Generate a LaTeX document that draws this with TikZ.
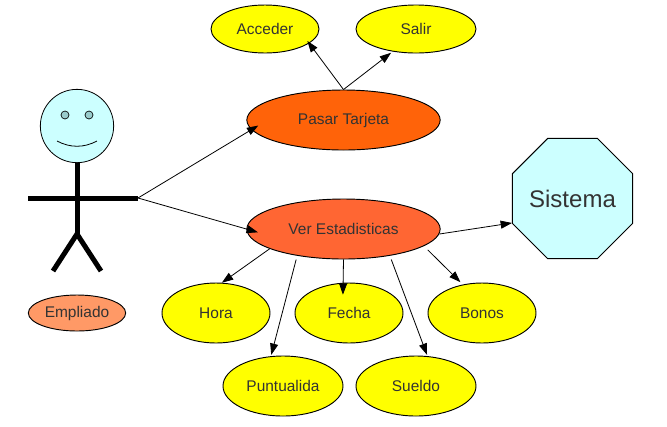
\documentclass[tikz,border=0pt]{standalone}
\usepackage{fontspec}
\setmainfont{Liberation Sans}
\usetikzlibrary{arrows.meta,shapes.geometric}
\definecolor{tinta}{HTML}{333333}
\definecolor{celeste}{HTML}{CCFFFF}
\definecolor{ojo}{HTML}{99CCCC}
\definecolor{amarillo}{HTML}{FFFF00}

\begin{document}
\begin{tikzpicture}[
  x=0.75pt, y=-0.75pt,
  caso/.style={draw=black, ellipse, inner sep=0pt, line width=0.7pt, text=tinta,
               font=\fontsize{11.6}{14}\selectfont, minimum height=45pt},
  opcion/.style={caso, fill=amarillo},
  palo/.style={line width=3.75pt},
  arr/.style={-{Stealth[length=8.5pt, width=6pt, inset=0pt]}, line width=0.6pt}]
\useasboundingbox (0,0) rectangle (667,426);
\node[opcion, minimum width=81pt, minimum height=36pt] (acceder) at (265,29) {Acceder};
\node[opcion, minimum width=90pt, minimum height=36pt] (salir) at (416,29) {Salir};
\node[caso, fill={rgb,255:red,255;green,99;blue,9}, minimum width=145pt] (pasar) at (343.5,120) {Pasar Tarjeta};
\node[caso, fill={rgb,255:red,255;green,102;blue,51}, minimum width=145pt] (ver) at (343.5,229) {Ver Estadisticas};
\node[opcion, minimum width=81pt] (hora) at (216,313) {Hora};
\node[opcion, minimum width=81pt] (fecha) at (349,313) {Fecha};
\node[opcion, minimum width=81pt] (bonos) at (482,313) {Bonos};
\node[opcion, minimum width=90pt] (puntualida) at (283,386) {Puntualida};
\node[opcion, minimum width=90pt] (sueldo) at (416,386) {Sueldo};
\node[caso, fill={rgb,255:red,255;green,153;blue,102}, minimum width=73pt, minimum height=27pt] (empliado) at (77,313) {Empliado};
\node[draw=black, regular polygon, regular polygon sides=8, inner sep=0pt, fill=celeste, text=tinta,
      line width=0.7pt, minimum size=97.5pt, font=\fontsize{18}{22}\selectfont] (sistema) at (572.5,198.5) {\makebox[0pt]{Sistema}};
\node[draw=black, circle, fill=celeste, inner sep=0pt, line width=0.6pt, minimum size=55pt] (cara) at (77,126) {};
\node[draw=black, circle, fill=ojo, inner sep=0pt, line width=0.5pt, minimum size=6pt] (ojoa) at (65,115) {};
\node[draw=black, circle, fill=ojo, inner sep=0pt, line width=0.5pt, minimum size=6pt] (ojob) at (89,115) {};
\coordinate (bocaa) at (57,141);
\coordinate (bocab) at (97,141);
\coordinate (cuello) at (77,163);
\coordinate (cadera) at (77,234);
\coordinate (manoa) at (28,198);
\coordinate (manob) at (138,198);
\coordinate (piea) at (53,271);
\coordinate (pieb) at (101,271);
\draw[line width=0.6pt] (bocaa) .. controls (70,148) and (84,148) .. (bocab);
\draw[palo] (cuello) -- (cadera);
\draw[palo] (manoa) -- (manob);
\draw[palo] (piea) -- (cadera) -- (pieb);
\draw[arr, shorten >=-6pt] (manob) -- (pasar.186.2);
\draw[arr, shorten >=-9pt] (manob) -- (ver.west);
\draw[arr, shorten >=-2.2pt] (pasar.north) -- (acceder.-18.3);
\draw[arr, shorten >=1.5pt] (pasar.north) -- (salir.224);
\draw[arr] (ver.195) -- (hora.79);
\draw[arr, shorten <=3pt, shorten >=1pt] (ver.210) -- (puntualida.112.2);
\draw[arr, shorten >=-9pt] (ver.south) -- (fecha.101.4);
\draw[arr, shorten <=3pt, shorten >=1pt] (ver.-30) -- (sueldo.69.5);
\draw[arr, shorten <=4pt, shorten >=2.5pt] (ver.-12) -- (bonos.124);
\draw[arr] (ver.-3.5) -- (sistema.202);
\end{tikzpicture}
\end{document}
